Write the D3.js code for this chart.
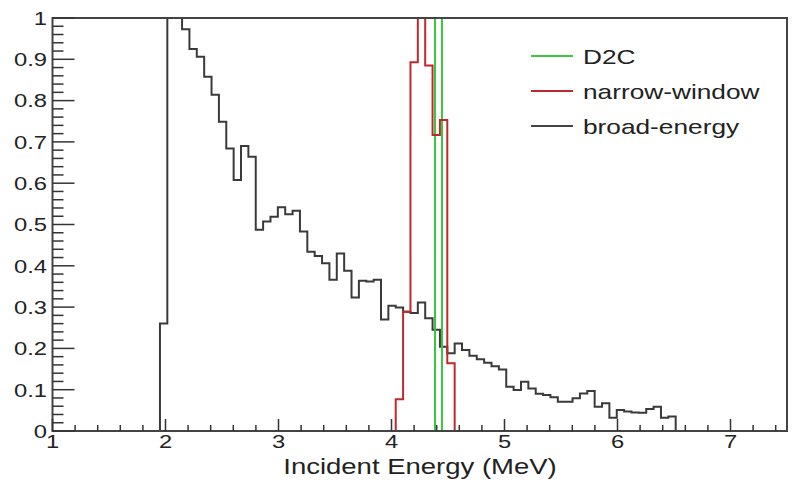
<!DOCTYPE html>
<html>
<head>
<meta charset="utf-8">
<script src="https://cdn.jsdelivr.net/npm/d3@7"></script>
<style>
  body { margin: 0; background: #fff; }
  svg { display: block; }
  text { font-family: "Liberation Sans", Arial, Helvetica, sans-serif; fill: #222; }
</style>
</head>
<body>
<svg id="chart" width="800" height="489"></svg>
<script>
// histogram binning shared by broad-energy and narrow-window
const binStart = 1.951;
const binWidth = 0.0652;

// broad-energy, 70 bins from binStart
const broadValues = [
  0.26, 1.0, 1.0, 0.973, 0.925, 0.906, 0.858, 0.814, 0.749, 0.684,
  0.608, 0.690, 0.664, 0.487, 0.507, 0.519, 0.542, 0.525, 0.533, 0.483,
  0.434, 0.424, 0.406, 0.366, 0.430, 0.388, 0.323, 0.364, 0.362, 0.366,
  0.270, 0.303, 0.299, 0.289, 0.286, 0.311, 0.273, 0.245, 0.204, 0.188,
  0.212, 0.196, 0.182, 0.174, 0.165, 0.157, 0.149, 0.107, 0.099, 0.119,
  0.103, 0.090, 0.087, 0.082, 0.071, 0.071, 0.079, 0.091, 0.097, 0.059,
  0.067, 0.032, 0.051, 0.047, 0.045, 0.044, 0.053, 0.059, 0.032, 0.035
];

// narrow-window: non-zero bins start at bin index 32, zero elsewhere
const narrowFirstBin = 32;
const narrowValues = [0.077, 0.289, 0.893, 1.0, 0.885, 0.717, 0.753, 0.164];

// D2C: single bin, zero baseline up to the right edge
const d2cEdges = [1.951, 4.385, 4.447, 7.5];
const d2cValues = [0, 1.0, 0];

const xTicks = [1, 2, 3, 4, 5, 6, 7];
const yTicks = [0, 0.1, 0.2, 0.3, 0.4, 0.5, 0.6, 0.7, 0.8, 0.9, 1];
const yTickLabels = ["0", "0.1", "0.2", "0.3", "0.4", "0.5", "0.6", "0.7", "0.8", "0.9", "1"];
const legendNames = ["D2C", "narrow-window", "broad-energy"];
const legendColors = ["#3cc83c", "#c0282d", "#444"];

const padL = 52.5, padR = 787, padT = 18, padB = 431;
const stretch = 1.25; // text in the picture is wider than normal

const svg = d3.select('#chart');

const x = d3.scaleLinear().domain([1, 7.5]).range([padL, padR]);
const y = d3.scaleLinear().domain([0, 1]).range([padB, padT]);

svg.append('clipPath').attr('id', 'plot')
  .append('rect')
  .attr('x', padL).attr('y', padT)
  .attr('width', padR - padL).attr('height', padB - padT);

// turn edges + values into step points
function histPoints(edges, values) {
  const pts = [[edges[0], 0]];
  values.forEach((v, i) => pts.push([edges[i], v]));
  pts.push([edges[edges.length - 1], values[values.length - 1]]);
  pts.push([edges[edges.length - 1], 0]);
  return pts;
}

const edges = d3.range(broadValues.length + 1).map(i => binStart + i * binWidth);
const narrowAll = broadValues.map((_, i) => {
  const j = i - narrowFirstBin;
  return j >= 0 && j < narrowValues.length ? narrowValues[j] : 0;
});

const line = d3.line()
  .x(d => x(d[0]))
  .y(d => y(d[1]))
  .curve(d3.curveStepAfter);

const g = svg.append('g').attr('clip-path', 'url(#plot)');

g.append('path')
  .datum(histPoints(edges, broadValues))
  .attr('d', line)
  .attr('fill', 'none')
  .attr('stroke', '#3a3a3a')
  .attr('stroke-width', 2);

g.append('path')
  .datum(histPoints(d2cEdges, d2cValues))
  .attr('d', line)
  .attr('fill', 'none')
  .attr('stroke', legendColors[0])
  .attr('stroke-width', 2);

g.append('path')
  .datum(histPoints(edges, narrowAll))
  .attr('d', line)
  .attr('fill', 'none')
  .attr('stroke', legendColors[1])
  .attr('stroke-width', 2);

// frame
svg.append('rect')
  .attr('x', padL).attr('y', padT)
  .attr('width', padR - padL).attr('height', padB - padT)
  .attr('fill', 'none')
  .attr('stroke', '#444')
  .attr('stroke-width', 2);

// x ticks (major every 1, minor every 0.2)
const xMinor = d3.range(1, 7.5001, 0.2);
svg.append('g').selectAll('line')
  .data(xMinor)
  .enter()
  .append('line')
  .attr('x1', d => x(d)).attr('x2', d => x(d))
  .attr('y1', padB)
  .attr('y2', d => Math.abs(d - Math.round(d)) < 1e-6 ? padB - 12 : padB - 6)
  .attr('stroke', '#333')
  .attr('stroke-width', 1.5);

// y ticks (major every 0.1, minor every 0.02)
const yMinor = d3.range(0, 1.0001, 0.02);
svg.append('g').selectAll('line')
  .data(yMinor)
  .enter()
  .append('line')
  .attr('y1', d => y(d)).attr('y2', d => y(d))
  .attr('x1', padL)
  .attr('x2', d => Math.abs(d * 10 - Math.round(d * 10)) < 1e-6 ? padL + 22 : padL + 11)
  .attr('stroke', '#333')
  .attr('stroke-width', 1.5);

svg.append('g').selectAll('text')
  .data(xTicks)
  .enter()
  .append('text')
  .attr('transform', d => `translate(${x(d)},448) scale(${stretch},1)`)
  .attr('text-anchor', 'middle')
  .attr('font-size', 19)
  .text(d => d);

svg.append('g').selectAll('text')
  .data(yTicks)
  .enter()
  .append('text')
  .attr('transform', d => `translate(47,${y(d) + 6.8}) scale(${stretch},1)`)
  .attr('text-anchor', 'end')
  .attr('font-size', 19)
  .text((d, i) => yTickLabels[i]);

svg.append('text')
  .attr('transform', `translate(420,474) scale(${stretch},1)`)
  .attr('text-anchor', 'middle')
  .attr('font-size', 22)
  .text('Incident Energy (MeV)');

// legend
const legend = svg.append('g');
legendNames.forEach((name, i) => {
  const ly = 56 + i * 35;
  legend.append('line')
    .attr('x1', 531).attr('x2', 573)
    .attr('y1', ly).attr('y2', ly)
    .attr('stroke', legendColors[i])
    .attr('stroke-width', 2);
  legend.append('text')
    .attr('transform', `translate(583,${ly + 7.5}) scale(${stretch},1)`)
    .attr('font-size', 21)
    .text(name);
});
</script>
</body>
</html>
